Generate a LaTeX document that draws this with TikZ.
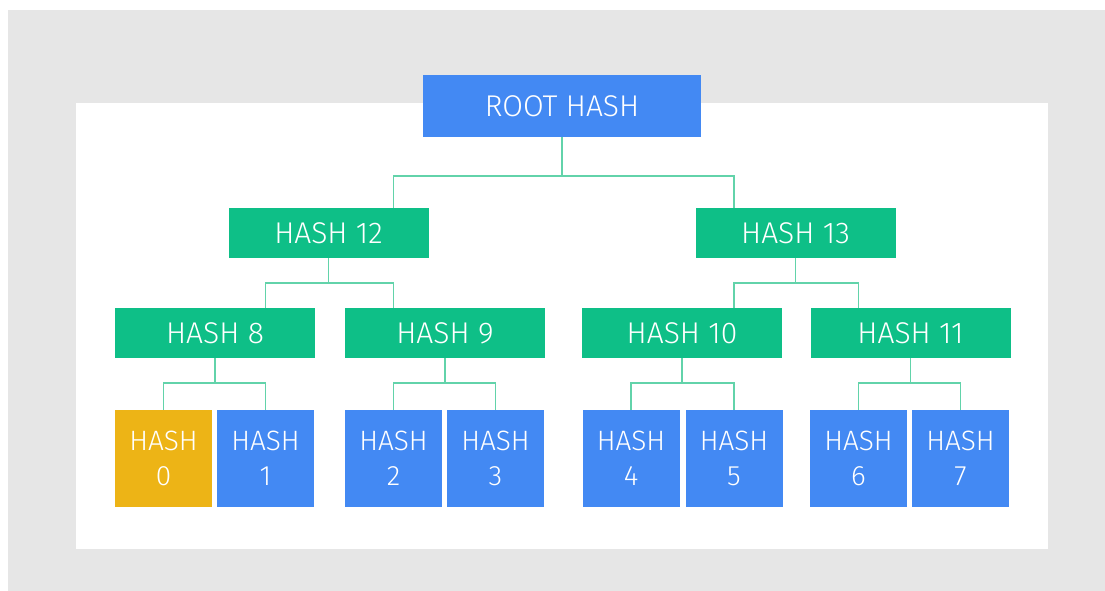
\documentclass[tikz,border=0pt]{standalone}
\usepackage{fontspec}
\setmainfont{Fira Sans}[UprightFont={* Light}]
\definecolor{merkleBlue}{RGB}{67, 137, 243}
\definecolor{merkleGreen}{RGB}{14, 191, 135}
\definecolor{merkleYellow}{RGB}{237, 180, 22}
\definecolor{merkleLine}{RGB}{98, 211, 170}
\definecolor{merkleGray}{RGB}{230, 230, 230}

\begin{document}
\begin{tikzpicture}[x=1pt, y=-1pt]
            % Styles
            \tikzstyle{hashbox} = [rectangle, inner sep=0pt, text=white, align=center]
            \tikzstyle{rootbox} = [hashbox, fill=merkleBlue, minimum width=278pt, minimum height=62pt, font=\fontsize{30}{36}\selectfont]
            \tikzstyle{innerbox} = [hashbox, fill=merkleGreen, minimum width=200pt, minimum height=50pt, font=\fontsize{30}{36}\selectfont]
            \tikzstyle{leafbox} = [hashbox, fill=merkleBlue, minimum width=97pt, minimum height=97pt, font=\fontsize{28}{35}\selectfont]
            \tikzstyle{link} = [draw=merkleLine, line width=1.5pt]

            % Background
            \useasboundingbox (0,0) rectangle (1105,591);
            \fill[merkleGray] (8,10) rectangle (1105,591);
            \fill[white] (76,103) rectangle (1048,549);

            % Tree
            \node[rootbox] (root) at (562, 106) {ROOT HASH};

            \node[innerbox] (h12) at (328.5, 233) {HASH 12};
            \node[innerbox] (h13) at (795.5, 233) {HASH 13};

            \node[innerbox] (h8) at (215, 333) {HASH 8};
            \node[innerbox] (h9) at (445, 333) {HASH 9};
            \node[innerbox] (h10) at (682, 333) {HASH 10};
            \node[innerbox] (h11) at (910.5, 333) {HASH 11};

            \node[leafbox, fill=merkleYellow] (h0) at (163.5, 458.5) {HASH\\0};
            \foreach \i/\x in {1/265.5, 2/393.5, 3/495.5, 4/631, 5/734, 6/858.5, 7/960.5}
                \node[leafbox] (h\i) at (\x, 458.5) {HASH\\\i};

            % Links
            \coordinate (bus0) at (0, 176);
            \coordinate (bus1) at (0, 283);
            \coordinate (bus2) at (0, 383);
            \foreach \p/\l/\lx/\r/\rx/\bus in {root/h12/h2/h13/h5/bus0, h12/h8/h1/h9/h2/bus1, h13/h10/h5/h11/h6/bus1,
                    h8/h0/h0/h1/h1/bus2, h9/h2/h2/h3/h3/bus2, h10/h4/h4/h5/h5/bus2, h11/h6/h6/h7/h7/bus2}
            {
                \draw[link] (\p.south) -- (\bus -| \p);
                \draw[link] (\l.north -| \lx) |- (\bus -| \p) -| (\r.north -| \rx);
            }
        \end{tikzpicture}
\end{document}
